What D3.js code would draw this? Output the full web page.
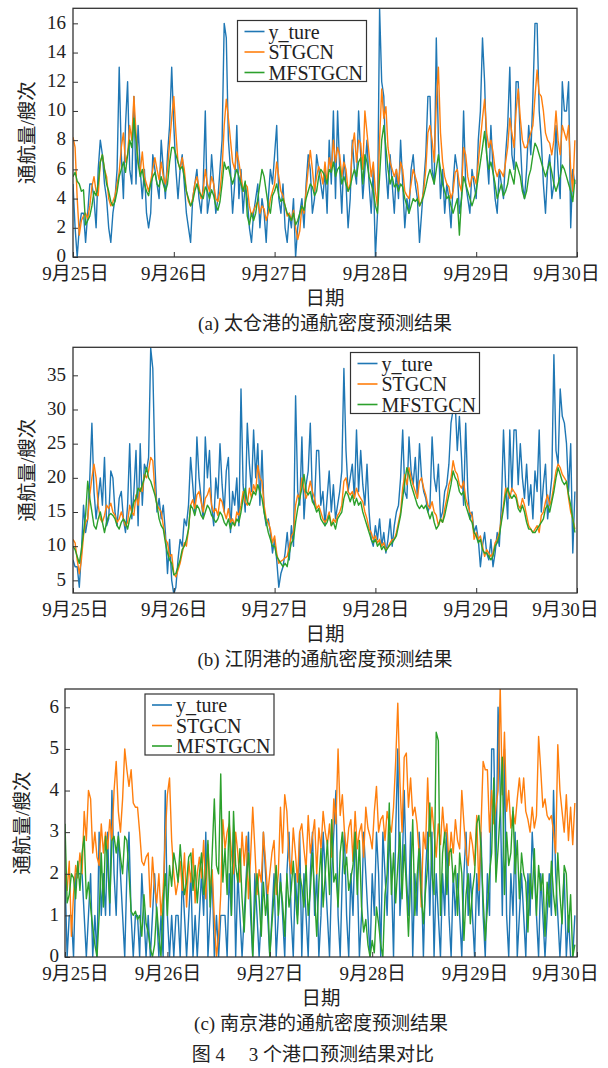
<!DOCTYPE html>
<html lang="zh">
<head>
<meta charset="UTF-8">
<script src="https://d3js.org/d3.v7.min.js"></script>
<style>
  body { margin: 0; background: #fff; }
  text { font-family: "Liberation Serif", "Noto Sans CJK SC", serif; fill: #222; }
</style>
</head>
<body>
<script>
// half-hour steps, 9/25 00:00 .. 9/29 23:30 (240 points)
var dayLabels = ["9月25日", "9月26日", "9月27日", "9月28日", "9月29日", "9月30日"];
var seriesNames = ["y_ture", "STGCN", "MFSTGCN"];

// (a) 太仓港
var yTureA = [5,2,0,2,3,3,1,3,5,5,4,2,6,8,7,5,4,2,1,3,4,6,13,7,
  4,9,12,6,5,11,5,9,6,4,6,3,2,3,7,6,5,4,8,6,4,7,9,13,
  9,6,4,6,7,5,3,2,1,4,5,6,4,3,5,10,3,4,7,5,3,4,6,8,
  16,15,8,6,3,5,9,4,6,3,5,4,2,1,3,4,5,2,4,3,1,4,6,5,
  7,9,4,3,5,2,1,3,2,4,0,2,3,4,2,5,7,6,3,4,7,6,5,4,
  6,3,8,5,10,4,10,6,3,7,5,2,4,8,6,5,10,7,4,6,8,5,3,6,
  0,3,17,12,11,6,4,7,5,3,6,4,8,5,2,4,3,6,7,5,4,1,3,5,
  7,11,11,6,5,15,8,4,6,3,5,4,2,5,7,6,3,4,10,5,4,3,6,5,
  4,8,10,15,12,7,5,9,6,4,3,6,5,4,7,9,13,7,6,12,12,8,5,4,
  6,9,7,11,16,16,10,8,5,3,6,7,4,5,9,6,4,12,10,10,12,2,6,5];
var stgcnA = [8.2,7.5,4.0,1.5,2.5,2.8,3.0,2.6,3.5,4.8,5.5,4.5,4.2,6.5,7.0,6.0,5.5,4.0,3.5,3.8,4.2,5.0,5.8,7.5,
  8.5,6.5,7.0,9.0,8.0,11.0,8.5,6.5,5.8,7.2,5.5,5.0,4.5,5.2,6.0,6.8,6.0,5.3,6.5,5.5,5.0,6.0,7.8,9.5,
  11.0,8.5,6.5,6.0,6.8,6.0,4.5,3.8,3.5,4.0,5.0,5.5,4.8,4.0,4.5,6.0,5.0,4.5,5.5,5.0,4.0,3.8,4.5,6.0,
  9.0,10.8,9.5,8.0,6.5,6.0,7.2,6.5,5.5,4.5,5.0,4.8,3.5,2.8,3.2,3.5,3.8,3.0,3.5,3.3,2.5,3.0,4.0,4.5,
  5.0,6.5,5.5,4.5,4.2,3.5,2.8,3.0,2.5,3.2,2.0,1.2,1.8,3.5,3.0,4.5,6.0,7.3,6.0,4.5,5.5,6.2,5.8,5.0,
  6.5,5.0,6.8,6.0,8.0,6.5,7.5,7.0,5.5,6.5,6.0,4.5,5.0,7.5,8.5,6.5,8.0,7.8,6.0,10.0,8.5,7.0,5.5,6.5,
  4.5,3.5,8.0,11.5,9.5,10.3,7.5,6.5,6.0,5.5,6.0,5.0,6.5,6.0,4.5,4.2,4.0,5.0,6.0,5.5,5.0,3.5,3.8,4.5,
  6.0,8.5,9.0,8.0,6.5,10.5,13.0,8.5,6.5,5.5,5.0,4.8,4.0,4.5,5.8,6.0,5.0,4.5,7.5,7.0,5.5,4.8,5.5,5.5,
  5.0,6.5,8.0,9.5,10.8,8.5,7.5,8.0,7.2,6.0,5.5,6.0,5.8,5.5,6.5,7.5,9.5,8.5,7.5,10.0,11.5,9.5,8.0,7.5,
  7.5,8.0,8.5,9.0,11.0,12.8,11.2,11.0,10.0,8.5,8.0,7.8,7.0,8.0,10.0,8.0,7.0,9.0,8.5,8.0,9.0,6.0,4.5,8.0];
var mfstgcnA = [5.5,5.8,5.2,5.0,4.5,4.6,2.2,2.5,2.8,3.5,4.5,4.2,5.0,6.5,7.0,6.0,5.0,4.5,3.8,3.5,3.8,4.5,5.5,6.0,
  6.5,5.8,7.0,8.0,7.5,9.5,8.0,6.5,5.5,6.0,5.0,4.5,4.2,5.0,5.5,5.8,5.0,4.8,5.5,5.0,4.5,5.0,6.5,7.5,
  7.5,7.0,6.5,6.0,6.2,5.5,4.5,4.0,3.5,3.8,4.5,5.0,4.5,4.2,4.0,4.8,4.5,4.0,4.6,4.2,3.5,3.2,3.8,5.0,
  6.5,6.0,6.2,5.5,5.0,5.5,6.0,5.5,5.0,4.5,5.2,2.8,2.2,3.0,2.5,3.0,4.0,5.0,6.0,5.5,4.5,3.5,3.0,4.2,
  4.5,5.0,4.2,3.8,4.0,3.5,3.0,2.8,2.5,3.0,2.2,2.5,3.0,3.5,3.2,4.0,4.5,5.0,4.8,4.2,4.5,5.5,6.0,5.8,
  5.5,5.0,6.0,5.8,6.5,5.5,6.0,6.2,5.0,5.5,5.0,4.5,4.8,5.5,6.0,5.5,6.5,6.8,5.0,7.0,6.5,5.5,5.0,4.5,
  3.5,3.0,5.5,8.0,9.0,7.5,6.0,5.0,5.5,4.8,5.0,4.5,5.0,4.8,4.0,3.5,3.0,3.5,4.0,3.8,4.0,3.5,3.8,4.2,
  4.8,5.5,6.0,5.5,5.0,6.0,7.0,6.0,5.0,4.5,4.0,4.2,3.5,3.0,3.5,4.0,1.5,4.0,5.5,5.0,4.5,4.0,3.5,4.0,
  4.5,5.5,6.5,7.5,8.6,7.0,6.0,6.5,5.8,5.0,4.0,4.5,5.0,4.2,4.5,5.0,6.0,5.5,5.0,6.5,6.0,5.5,4.5,4.0,
  4.5,5.5,6.0,7.0,7.8,7.5,7.0,6.5,6.0,5.5,6.0,6.5,5.8,5.0,4.5,5.0,5.5,6.3,6.0,5.5,5.0,4.5,3.8,5.3];

// (b) 江阴港
var yTureB = [8,7,7,4,9,16,12,14,20,28,18,14, 17,20,16,23,13,14,21,20,15,13,17,18,
  14,12,16,25,14,18,24,13,25,16,22,21, 23,39,36,22,15,17,14,16,12,6,11,5,
  3,4,8,11,10,14,13,16,23,19,15,26, 20,17,14,26,20,24,16,13,20,17,25,19,
  15,21,23,12,18,16,20,13,33,19,15,28, 22,18,27,20,25,16,24,15,13,14,12,9,
  11,8,4,6,7,9,12,8,13,10,32,18, 16,26,14,19,21,28,17,16,24,24,16,18,
  13,17,21,15,19,14,16,18,21,36,24,18, 20,22,17,27,18,24,19,16,22,15,11,10,
  13,11,14,10,12,9,11,14,10,13,15,16, 20,27,18,17,26,21,19,23,17,25,20,18,
  17,15,16,26,20,18,22,14,15,18,19,22, 28,30,31,24,29,23,16,28,18,14,15,12,
  13,11,7,10,12,9,8,11,7,9,12,10, 16,27,19,14,27,18,27,27,19,25,20,17,
  22,16,19,14,21,18,27,15,19,22,14,17, 20,38,24,22,33,29,28,25,18,25,9,18];
var stgcnB = [11.0,10.5,8.0,6.0,8.0,11.5,13.5,14.0,17.5,20.0,22.0,20.0, 16.0,14.0,13.5,14.5,16.0,15.5,16.3,15.0,14.5,13.5,14.0,15.0,
  14.0,13.0,13.5,16.0,15.0,14.5,17.5,16.0,18.5,18.0,20.5,20.0, 21.0,23.0,22.5,18.0,16.0,15.5,15.0,13.0,11.0,10.5,8.5,8.8,
  6.0,5.5,6.5,7.5,9.0,10.5,10.0,12.5,16.0,16.8,15.5,17.5, 18.0,16.5,15.0,17.0,17.5,18.5,16.0,15.0,15.5,14.5,17.0,16.5,
  15.0,14.0,15.5,13.5,14.0,13.0,15.0,14.5,16.0,18.0,16.5,16.0, 18.5,17.0,19.0,18.0,21.8,20.0,19.5,16.0,14.0,13.5,12.5,10.5,
  11.5,9.0,7.5,7.8,8.0,8.3,8.5,10.0,11.5,12.0,16.0,17.5, 17.0,20.0,18.5,17.0,18.0,19.5,18.0,17.0,15.5,16.0,15.0,14.0,
  13.5,14.0,15.0,13.0,14.0,13.5,14.5,15.0,16.0,19.5,20.0,18.0, 17.5,18.0,17.0,18.5,17.5,17.0,16.5,15.0,14.0,12.5,12.0,11.0,
  11.5,10.5,11.0,10.0,10.5,9.5,9.8,10.5,11.0,11.0,12.0,13.5, 15.0,18.5,20.5,19.0,21.5,20.0,19.0,18.0,17.0,19.5,20.0,18.5,
  17.5,16.0,15.5,16.5,15.0,14.5,13.0,14.0,13.5,15.5,17.0,19.0, 20.0,22.5,21.0,20.5,19.0,18.5,19.5,17.0,16.0,15.0,14.5,11.0,
  12.0,11.0,11.5,10.0,8.5,9.5,9.0,8.5,9.0,10.5,11.0,12.0, 14.0,16.0,18.5,18.0,17.0,18.5,18.0,17.5,16.0,15.5,17.0,16.0,
  14.5,13.0,12.5,12.0,12.5,13.0,12.0,14.5,15.0,16.5,17.5,16.0, 17.0,19.0,21.0,22.0,21.5,20.5,20.0,19.5,17.0,15.0,14.0,12.5];
var mfstgcnB = [10.0,9.5,8.5,7.5,9.5,12.0,14.5,19.5,17.0,15.0,13.0,12.5, 14.0,15.0,13.5,12.0,13.5,14.5,14.8,14.5,14.0,13.0,12.5,13.5,
  14.0,13.5,12.5,14.0,15.0,16.5,17.0,18.5,18.0,19.0,20.0,21.5, 20.0,19.5,18.5,17.5,16.0,14.0,13.0,12.5,10.5,9.0,8.0,7.5,
  5.8,6.0,7.0,8.0,9.5,10.0,11.0,12.5,16.0,15.5,14.5,16.0, 15.5,14.5,14.0,15.0,16.0,15.5,14.5,14.0,13.5,14.0,15.0,14.5,
  13.5,13.0,14.0,12.5,13.5,13.0,14.0,13.5,15.0,17.0,18.5,16.5, 16.0,17.0,18.0,17.5,19.0,18.0,17.0,15.0,13.5,12.0,11.0,10.0,
  10.0,8.5,8.0,7.5,7.0,7.5,7.0,9.0,10.5,11.0,13.5,15.5, 17.0,18.5,20.5,18.0,17.5,18.0,16.5,16.0,15.0,15.5,14.0,13.5,
  13.0,13.5,14.5,13.0,13.5,12.5,14.0,14.5,15.0,17.0,18.0,17.5, 16.5,17.5,16.0,17.0,16.0,16.5,15.0,14.0,13.0,12.0,11.0,10.5,
  11.0,10.0,10.5,9.5,10.0,9.3,9.8,10.2,10.5,11.0,11.5,13.0, 14.5,17.0,19.5,21.5,20.5,19.0,18.0,17.0,16.0,15.5,16.0,15.5,
  16.0,15.0,14.0,15.0,13.5,12.5,13.0,14.0,13.5,14.5,16.0,17.5, 19.0,21.0,20.0,19.5,18.0,17.5,18.0,16.0,15.0,14.0,13.5,12.0,
  11.5,10.5,11.0,9.5,9.0,9.0,8.5,8.0,8.5,10.0,10.5,11.5, 13.5,15.5,17.5,18.5,17.5,17.0,17.5,17.0,15.5,15.0,16.0,15.0,
  13.5,12.5,12.5,12.0,12.0,12.5,13.0,13.5,14.0,15.5,16.0,15.0, 16.5,18.0,20.0,21.5,20.5,19.5,19.0,19.5,17.5,16.0,14.0,12.0];

// (c) 南京港
var yTureC = [2,0,1,1,0,2,2,2,2,1,0,1, 2,0,1,0,3,1,2,1,3,1,4,2,
  1,3,2,1,0,2,3,1,0,1,1,0, 2,1,0,1,0,1,2,1,0,1,0,4,
  1,0,1,0,1,1,0,2,1,0,1,2, 0,1,0,1,2,1,3,0,1,2,0,1,
  0,1,1,1,0,2,1,3,0,2,1,0, 1,2,3,1,0,2,1,0,1,3,2,1,
  0,1,2,0,1,2,1,0,2,3,1,0, 2,1,3,0,2,1,0,2,3,1,2,0,
  1,3,2,1,0,2,3,4,1,0,2,3, 1,0,2,1,3,2,0,1,3,2,1,0,
  2,1,3,2,0,3,2,1,3,2,0,3, 5,1,2,4,2,1,3,0,2,1,3,2,
  0,2,3,1,3,0,2,1,0,2,1,3, 1,0,2,1,2,1,0,2,3,1,2,1,
  0,2,1,3,1,0,2,1,5,5,2,6, 4,1,5,1,0,2,1,3,0,1,2,1,
  0,2,1,3,2,1,0,2,1,0,1,2, 1,4,2,1,0,1,2,0,1,0,0,1];
var stgcnC = [2.0,1.6,2.3,0.5,1.5,2.2,1.9,2.5,2.0,3.5,2.8,4.0, 3.8,2.5,3.0,2.4,2.2,3.2,2.5,3.0,2.6,3.3,2.8,4.0,
  4.7,3.5,3.0,3.8,5.0,4.5,4.1,4.5,3.7,3.6,3.6,3.0, 2.3,2.2,2.4,2.5,1.2,2.4,1.7,1.3,2.0,1.0,1.6,2.9,
  3.9,4.3,2.8,2.0,1.5,1.8,2.3,1.6,2.5,1.2,2.3,1.8, 2.6,1.3,2.0,2.4,1.9,2.8,1.4,2.7,1.6,2.1,0.9,0.0,
  0.5,1.5,3.3,2.6,3.0,3.2,2.5,2.0,3.0,2.5,1.8,3.0, 2.2,2.9,1.4,2.4,3.6,2.6,1.5,2.1,1.8,3.0,2.3,1.5,
  2.0,2.5,2.8,1.5,2.0,3.6,2.5,3.9,3.5,2.4,2.0,3.1, 2.5,1.8,3.0,3.2,2.6,2.1,3.4,2.5,2.9,3.3,2.0,3.1,
  2.6,3.5,3.0,2.7,3.2,2.4,3.8,3.2,5.0,3.4,3.9,3.0, 2.5,3.1,3.3,2.3,3.5,2.6,3.0,3.2,2.4,3.6,3.1,2.9,
  2.6,3.5,4.1,3.0,3.3,3.4,2.8,3.5,3.2,3.0,3.6,4.7, 6.1,4.2,3.0,4.8,4.9,3.6,4.3,3.4,3.6,3.2,2.5,1.2,
  3.0,2.6,4.3,2.9,3.6,3.0,2.4,3.2,2.7,3.6,2.9,3.2, 2.2,3.0,2.5,3.3,2.8,2.6,4.0,3.2,2.5,2.2,3.0,2.7,
  2.2,3.4,1.6,3.1,4.7,4.5,4.5,3.0,4.0,3.2,3.6,4.0, 6.5,3.9,5.4,3.5,4.0,3.1,3.5,3.2,3.8,4.3,3.7,4.3,
  3.5,3.3,3.0,3.6,3.1,3.4,5.3,4.5,3.6,3.8,3.4,3.3, 3.4,3.0,2.5,5.1,4.0,3.5,3.0,3.9,2.8,3.6,2.7,3.7];
var mfstgcnC = [3.2,1.3,1.5,2.0,1.9,1.4,2.3,1.6,2.5,2.9,1.4,1.8, 1.2,0.7,0.3,0.0,1.0,2.5,1.2,2.9,2.2,1.3,2.8,2.9,
  2.5,2.9,2.4,2.0,2.9,2.8,2.0,1.1,1.0,1.1,0.9,1.0, 0.5,1.5,0.8,0.6,0.2,0.0,0.3,1.2,0.5,0.0,1.3,2.0,
  1.0,2.2,1.7,2.5,2.2,1.8,2.7,2.0,1.5,1.8,2.4,2.5, 1.6,2.2,1.3,2.0,2.5,1.5,1.9,2.8,1.2,2.5,3.8,2.2,
  2.0,4.4,1.8,2.6,1.5,3.5,1.0,3.5,2.2,1.8,2.6,1.4, 0.6,1.8,2.5,1.5,0.0,1.2,2.0,1.4,0.5,1.8,1.0,1.5,
  0.0,0.8,1.5,2.2,1.0,1.8,1.3,0.5,2.0,1.2,1.6,2.3, 1.5,0.8,2.0,1.7,1.2,2.2,1.0,1.6,2.5,1.5,0.5,1.8,
  2.6,1.2,2.0,2.8,1.5,3.3,1.8,2.0,1.2,2.5,3.0,2.0, 2.4,1.6,1.9,2.2,3.0,1.5,2.8,1.2,0.6,0.9,0.3,0.0,
  0.4,0.1,1.2,0.8,0.3,0.0,1.5,2.0,3.7,1.5,2.5,1.3, 2.2,3.0,1.4,2.7,1.7,0.5,1.8,3.3,1.0,1.9,2.6,1.5,
  0.8,1.6,2.2,3.7,2.0,1.5,5.4,5.2,1.0,2.5,3.0,1.5, 2.5,2.6,1.8,2.2,1.0,2.5,2.0,0.4,1.5,2.0,0.8,1.6,
  2.0,3.2,3.4,2.6,1.4,0.4,1.2,2.0,2.5,4.3,1.8,2.6, 3.5,4.8,1.5,3.0,2.2,2.5,3.6,2.0,2.8,1.4,2.5,2.0,
  1.8,0.6,2.0,1.4,2.6,1.0,2.2,1.6,2.0,0.5,1.8,1.2, 2.3,1.5,1.0,2.5,1.5,0.8,2.2,2.0,0.6,1.5,0.0,0.3];

var colors = ["#1f77b4", "#ff7f0e", "#2ca02c"];
var W = 608, H = 1068, RIGHT = 577;

var panels = [
  { series: [yTureA, stgcnA, mfstgcnA], yDomain: [0, 17.03], yTicks: d3.range(0, 17, 2),
    left: 73, top: 8.3, bottom: 257, pad: 7, labelX: 27, firstDx: 2, lastDx: -11,
    legend: [237.5, 20.5], caption: "(a) 太仓港的通航密度预测结果" },
  { series: [yTureB, stgcnB, mfstgcnB], yDomain: [3.15, 39.1], yTicks: d3.range(5, 36, 5),
    left: 73, top: 347.3, bottom: 593, pad: 7, labelX: 27, firstDx: 2, lastDx: -12,
    legend: [350.5, 352.5], caption: "(b) 江阴港的通航密度预测结果" },
  { series: [yTureC, stgcnC, mfstgcnC], yDomain: [0, 6.44], yTicks: d3.range(0, 7, 1),
    left: 65, top: 689, bottom: 957, pad: 6, labelX: 22, firstDx: 10, lastDx: -12,
    legend: [145, 694], caption: "(c) 南京港的通航密度预测结果" }
];

panels.forEach(function(p) {
  p.series.forEach(function(s) { if (s.length !== 240) throw new Error("series length " + s.length); });
});

var svg = d3.select("body").append("svg").attr("width", W).attr("height", H);

panels.forEach(function(p, id) {
  var x = d3.scaleLinear().domain([0, 240]).range([p.left, RIGHT]);
  var y = d3.scaleLinear().domain(p.yDomain).range([p.bottom, p.top]);

  svg.append("clipPath").attr("id", "clip" + id)
    .append("rect")
    .attr("x", p.left).attr("y", p.top)
    .attr("width", RIGHT - p.left).attr("height", p.bottom - p.top);

  var line = d3.line()
    .x(function(d, i) { return x(i); })
    .y(function(d) { return y(d); });

  var g = svg.append("g").attr("clip-path", "url(#clip" + id + ")");
  p.series.forEach(function(s, k) {
    g.append("path").datum(s)
      .attr("d", line)
      .attr("fill", "none")
      .attr("stroke", colors[k])
      .attr("stroke-width", 1.4)
      .attr("stroke-linejoin", "round");
  });

  // y axis, ticks pointing in
  var yAxis = svg.append("g")
    .attr("transform", "translate(" + p.left + ",0)")
    .call(d3.axisLeft(y).tickValues(p.yTicks).tickSize(-5).tickPadding(p.pad)
      .tickFormat(d3.format("d")));
  // x axis
  var xAxis = svg.append("g")
    .attr("transform", "translate(0," + p.bottom + ")")
    .call(d3.axisBottom(x).tickValues(d3.range(0, 241, 48)).tickSize(-5).tickPadding(10)
      .tickFormat(function(d, i) { return dayLabels[i]; }));

  [yAxis, xAxis].forEach(function(a) {
    a.select(".domain").remove();
    a.selectAll(".tick line").attr("stroke", "#333").attr("stroke-width", 1);
    a.selectAll(".tick text").attr("font-size", 19).attr("fill", "#222")
      .style("font-family", '"Liberation Serif", "Noto Sans CJK SC", serif');
  });
  yAxis.selectAll(".tick text").attr("dy", "0.25em");
  var xt = xAxis.selectAll(".tick text");
  xt.filter(function(d, i) { return i === 0; }).attr("x", p.firstDx);
  xt.filter(function(d, i) { return i === 5; }).attr("x", p.lastDx);

  // frame
  svg.append("rect")
    .attr("x", p.left).attr("y", p.top)
    .attr("width", RIGHT - p.left).attr("height", p.bottom - p.top)
    .attr("fill", "none").attr("stroke", "#333").attr("stroke-width", 1.3);

  // y label
  svg.append("text")
    .attr("transform", "translate(" + p.labelX + "," + ((p.top + p.bottom) / 2) + ") rotate(-90)")
    .attr("text-anchor", "middle")
    .attr("dominant-baseline", "central")
    .attr("font-size", 19.5)
    .text("通航量/艘次");

  var cx = (p.left + RIGHT) / 2;
  svg.append("text")
    .attr("x", cx).attr("y", p.bottom + 48)
    .attr("text-anchor", "middle").attr("font-size", 19.5)
    .text("日期");
  svg.append("text")
    .attr("x", cx).attr("y", p.bottom + 73)
    .attr("text-anchor", "middle").attr("font-size", 19)
    .text(p.caption);

  // legend
  var lg = svg.append("g").attr("transform", "translate(" + p.legend[0] + "," + p.legend[1] + ")");
  lg.append("rect")
    .attr("width", 129).attr("height", 61)
    .attr("fill", "#fff").attr("stroke", "#333").attr("stroke-width", 1.2);
  seriesNames.forEach(function(name, k) {
    var yy = 11 + k * 20.5;
    lg.append("line")
      .attr("x1", 7).attr("x2", 27).attr("y1", yy).attr("y2", yy)
      .attr("stroke", colors[k]).attr("stroke-width", 1.6);
    lg.append("text")
      .attr("x", 31).attr("y", yy)
      .attr("dominant-baseline", "central")
      .attr("font-size", 20)
      .text(name);
  });
});

svg.append("text")
  .attr("x", 313).attr("y", 1061)
  .attr("text-anchor", "middle").attr("font-size", 19)
  .style("white-space", "pre")
  .text("图 4\u3000 3 个港口预测结果对比");
</script>
</body>
</html>
